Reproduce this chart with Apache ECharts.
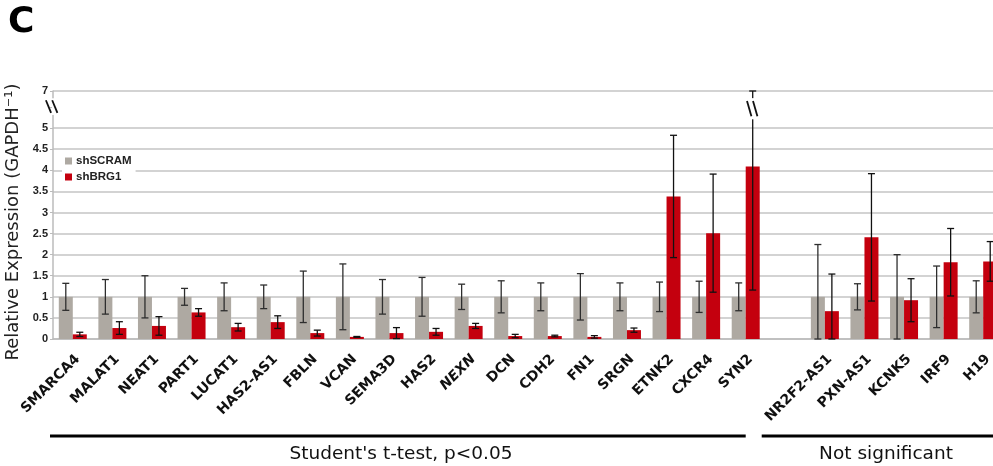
<!DOCTYPE html>
<html>
<head>
<meta charset="utf-8">
<script src="https://cdn.jsdelivr.net/npm/echarts@6/dist/echarts.min.js"></script>
<style>
  html, body { margin: 0; padding: 0; background: #fff; }
  #chart { width: 993px; height: 466px; }
</style>
</head>
<body>
<div id="chart"></div>
<script>
// Genes on the x axis; the empty entry separates the two test groups.
const genes = ['SMARCA4', 'MALAT1', 'NEAT1', 'PART1', 'LUCAT1', 'HAS2-AS1', 'FBLN', 'VCAN',
  'SEMA3D', 'HAS2', 'NEXN', 'DCN', 'CDH2', 'FN1', 'SRGN', 'ETNK2', 'CXCR4', 'SYN2', '',
  'NR2F2-AS1', 'PXN-AS1', 'KCNK5', 'IRF9', 'H19'];

// Relative expression (mean and error) per condition.
const scramMean = [1, 1, 1, 1, 1, 1, 1, 1, 1, 1, 1, 1, 1, 1, 1, 1, 1, 1, null, 1, 1, 1, 1, 1];
const scramErr = [0.32, 0.41, 0.50, 0.20, 0.33, 0.28, 0.61, 0.78, 0.41, 0.46, 0.30, 0.38, 0.33,
  0.55, 0.33, 0.35, 0.37, 0.33, null, 1.24, 0.31, 1.00, 0.73, 0.38];
const brgMean = [0.11, 0.26, 0.31, 0.63, 0.28, 0.40, 0.14, 0.05, 0.14, 0.17, 0.31, 0.07, 0.07,
  0.05, 0.21, 3.38, 2.51, 4.09, null, 0.66, 2.41, 0.92, 1.82, 1.84];
const brgErr = [0.05, 0.15, 0.22, 0.09, 0.09, 0.15, 0.07, 0.01, 0.13, 0.08, 0.06, 0.04, 0.02,
  0.03, 0.05, 1.45, 1.40, 2.93, null, 0.88, 1.51, 0.51, 0.80, 0.47];

// Y axis labels; the axis is broken between 5 and 7.
const yLabels = ['0', '0.5', '1', '1.5', '2', '2.5', '3', '3.5', '4', '4.5', '5'];
const yTopLabel = '7';

const seriesNames = ['shSCRAM', 'shBRG1'];
const groupLabels = ["Student's t-test, p<0.05", 'Not significant'];

// Broken axis: values above BREAK_FROM are compressed so that BREAK_TO sits at the top.
const BREAK_FROM = 5, BREAK_TO = 7, BREAK_SPAN = 0.88;
const AXIS_MAX = BREAK_FROM + BREAK_SPAN;
function toAxis(v) {
  if (v == null) return null;
  if (v <= BREAK_FROM) return v;
  return Math.min(AXIS_MAX, BREAK_FROM + (v - BREAK_FROM) * BREAK_SPAN / (BREAK_TO - BREAK_FROM));
}

const GRAY = '#aea9a2';
const RED = '#c4000e';
const BAR_W = 14;

function errorData(means, errs) {
  return means.map((m, i) => m == null ? null : [i, m, errs[i]]);
}

function errorBar(offset, color) {
  return function (params, api) {
    const i = api.value(0), m = api.value(1), e = api.value(2);
    const lo = Math.max(0, m - e), hi = m + e;
    const top = api.coord([i, toAxis(hi)]);
    const bot = api.coord([i, toAxis(lo)]);
    const x = top[0] + offset;
    const cap = 3.5;
    const style = { stroke: color, lineWidth: 1.3 };
    return {
      type: 'group',
      children: [
        { type: 'line', shape: { x1: x, y1: top[1], x2: x, y2: bot[1] }, style: style },
        { type: 'line', shape: { x1: x - cap, y1: top[1], x2: x + cap, y2: top[1] }, style: style },
        { type: 'line', shape: { x1: x - cap, y1: bot[1], x2: x + cap, y2: bot[1] }, style: style }
      ]
    };
  };
}

// One grid line per tick; the 5.5 tick inside the break stays invisible.
const gridColors = [];
for (let k = 0; k <= 12; k++) gridColors.push(k === 11 ? 'rgba(0,0,0,0)' : '#c4c4c4');

const chart = echarts.init(document.getElementById('chart'), null, { renderer: 'canvas' });

const option = {
  animation: false,
  textStyle: { fontFamily: 'DejaVu Sans' },
  // The plot runs a little past the right edge of the canvas.
  grid: { left: 53, width: 950, top: 91, bottom: 127, containLabel: false, outerBoundsMode: 'none' },
  legend: {
    data: seriesNames,
    orient: 'vertical',
    left: 62, top: 152,
    padding: [3, 4, 3, 3],
    backgroundColor: '#fff',
    icon: 'rect',
    itemWidth: 7, itemHeight: 7, itemGap: 4,
    textStyle: { fontFamily: 'Liberation Sans', fontWeight: 'bold', fontSize: 11.5, color: '#222', lineHeight: 12, padding: [0, 0, 0, -1] }
  },
  xAxis: {
    type: 'category',
    data: genes,
    axisLine: { lineStyle: { color: '#bbbbbb', width: 1.5 } },
    axisTick: { interval: 0, length: 4, lineStyle: { color: '#bbbbbb' } },
    axisLabel: {
      interval: 0, rotate: 45, margin: 13, verticalAlign: 'top',
      fontFamily: 'DejaVu Sans', fontWeight: 'bold', fontSize: 14, color: '#111',
      formatter: v => v === 'NEXN' ? '{it|' + v + '}' : v,
      rich: { it: { fontFamily: 'DejaVu Sans', fontWeight: 'bold', fontStyle: 'italic', fontSize: 14, color: '#111' } }
    },
    splitLine: { show: false }
  },
  yAxis: {
    type: 'value',
    min: 0, max: AXIS_MAX, interval: 0.5,
    axisLine: { show: true, lineStyle: { color: '#bbbbbb', width: 1.5 } },
    axisTick: { show: true, length: 3, lineStyle: { color: '#bbbbbb' } },
    axisLabel: {
      margin: 5,
      fontFamily: 'Liberation Sans', fontWeight: 'bold', fontSize: 11, color: '#222',
      showMaxLabel: true,
      formatter: function (v) {
        if (v > BREAK_FROM + 0.6) return yTopLabel;
        const k = Math.round(v / 0.5);
        return (k < yLabels.length && Math.abs(k * 0.5 - v) < 1e-6) ? yLabels[k] : '';
      }
    },
    splitLine: { show: true, lineStyle: { color: gridColors, width: 1.5 } }
  },
  series: [
    {
      name: seriesNames[0], type: 'bar', barWidth: BAR_W, barGap: '0%',
      itemStyle: { color: GRAY }, data: scramMean.map(toAxis), z: 2
    },
    {
      name: seriesNames[1], type: 'bar', barWidth: BAR_W, barGap: '0%',
      itemStyle: { color: RED }, data: brgMean.map(toAxis), z: 2
    },
    {
      type: 'custom', name: 'errScram', renderItem: errorBar(-BAR_W / 2, '#2e2e2e'),
      data: errorData(scramMean, scramErr), encode: { x: 0, y: 1 }, z: 3, silent: true
    },
    {
      type: 'custom', name: 'errBrg', renderItem: errorBar(BAR_W / 2, '#111'),
      data: errorData(brgMean, brgErr), encode: { x: 0, y: 1 }, z: 3, silent: true
    }
  ]
};

chart.setOption(option);

// Break marks on the y axis and on the SYN2 error bar, plus the group annotations.
const catW = chart.convertToPixel({ xAxisIndex: 0 }, 1) - chart.convertToPixel({ xAxisIndex: 0 }, 0);
const axisX = chart.convertToPixel({ xAxisIndex: 0 }, 0) - catW / 2;
const yHi = chart.convertToPixel({ yAxisIndex: 0 }, 5.66);
const yLo = chart.convertToPixel({ yAxisIndex: 0 }, 5.36);
const syn2 = genes.indexOf('SYN2');
const syn2Center = chart.convertToPixel({ xAxisIndex: 0 }, syn2);
const syn2X = syn2Center + BAR_W / 2;
const sHi = chart.convertToPixel({ yAxisIndex: 0 }, 5.64);
const sLo = chart.convertToPixel({ yAxisIndex: 0 }, 5.28);

function slash(cx, y1, y2, dx) {
  return { type: 'line', shape: { x1: cx - dx, y1: y1, x2: cx + dx, y2: y2 },
    style: { stroke: '#111', lineWidth: 1.8 }, z: 10 };
}

const line1Start = axisX - 3;
const line1End = syn2Center;
const line2Start = syn2Center + 16;

chart.setOption({
  graphic: [
    { type: 'text', left: 8, top: 5, style: { text: 'C', font: 'bold 36px "DejaVu Sans"', fill: '#000' } },
    {
      type: 'text', x: 13, y: 222, rotation: Math.PI / 2,
      style: { text: 'Relative Expression (GAPDH⁻¹)', font: '18px "DejaVu Sans"', fill: '#222', align: 'center', verticalAlign: 'middle' }
    },
    { type: 'rect', shape: { x: axisX - 1, y: yHi - 2, width: 3, height: yLo - yHi + 4 }, style: { fill: '#fff' }, z: 9 },
    slash(axisX - 4.5, yHi, yLo, 2.6),
    slash(axisX + 1.8, yHi, yLo, 2.6),
    { type: 'rect', shape: { x: syn2X - 2, y: sHi - 3, width: 4, height: sLo - sHi + 6 }, style: { fill: '#fff' }, z: 9 },
    slash(syn2X - 3.5, sHi, sLo, 2.2),
    slash(syn2X + 2.5, sHi, sLo, 2.2),
    { type: 'rect', shape: { x: line1Start, y: 434.5, width: line1End - line1Start, height: 3 }, style: { fill: '#000' } },
    { type: 'rect', shape: { x: line2Start, y: 434.5, width: 300, height: 3 }, style: { fill: '#000' } },
    {
      type: 'text', x: 401, y: 454,
      style: { text: groupLabels[0], font: '18.5px "DejaVu Sans"', fill: '#111', align: 'center', verticalAlign: 'middle' }
    },
    {
      type: 'text', x: 886, y: 454,
      style: { text: groupLabels[1], font: '18.5px "DejaVu Sans"', fill: '#111', align: 'center', verticalAlign: 'middle' }
    }
  ]
});
</script>
</body>
</html>
